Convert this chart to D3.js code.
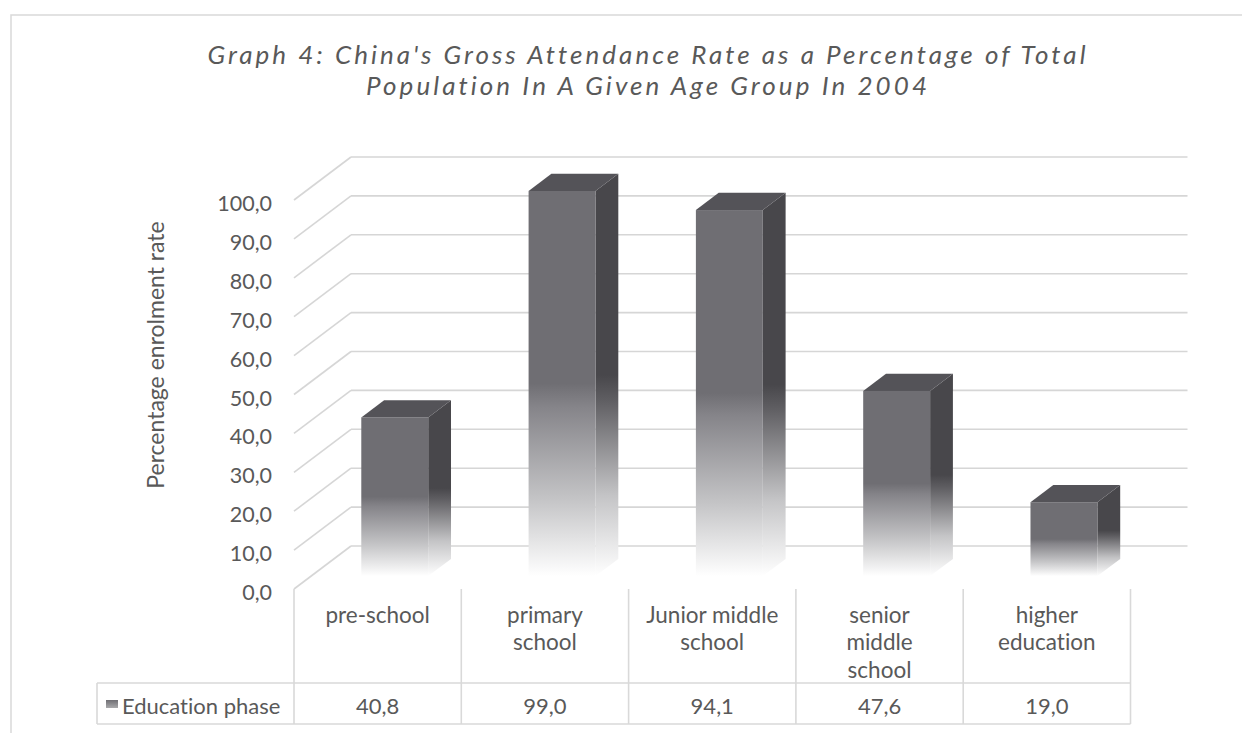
<!DOCTYPE html>
<html>
<head>
<meta charset="utf-8">
<script src="https://cdn.jsdelivr.net/npm/d3@7"></script>
<style>
  html, body { margin: 0; padding: 0; background: #ffffff; }
  svg { display: block; }
  text { font-family: Lato, "Open Sans", sans-serif; fill: #595959; font-variant-ligatures: none; font-feature-settings: "liga" 0, "dlig" 0; }
</style>
</head>
<body>
<svg id="chart" width="1242" height="733"></svg>
<script>
// Gross attendance rate by education phase, China 2004
const categories = ["pre-school", "primary school", "Junior middle school", "senior middle school", "higher education"];
const categoryLines = [["pre-school"], ["primary", "school"], ["Junior middle", "school"], ["senior", "middle", "school"], ["higher", "education"]];
const values = [40.8, 99.0, 94.1, 47.6, 19.0];
const yTicks = [0, 10, 20, 30, 40, 50, 60, 70, 80, 90, 100];
const seriesName = "Education phase";
const titleLines = ["Graph 4: China's Gross Attendance Rate as a Percentage of Total",
                    "Population In A Given Age Group In 2004"];
const yAxisTitle = "Percentage enrolment rate";

const svg = d3.select("#chart");
const comma = d3.formatLocale({ decimal: ",", thousands: ".", grouping: [3], currency: ["", ""] }).format(".1f");

// plot geometry (front plane of the floor, plus an oblique depth offset)
const left = 294, right = 1130.5, floorFront = 589, topFront = 200;
const depthX = 57, depthY = -43;
const barFront = 0.3, barBack = 0.7;   // bar position within the depth

const x = d3.scaleBand().domain(categories).range([left, right]).paddingInner(0).paddingOuter(0);
const y = d3.scaleLinear().domain([0, 100]).range([floorFront, topFront]);

// chart frame
svg.append("rect").attr("x", 11).attr("y", 15).attr("width", 1300).attr("height", 800)
  .attr("fill", "#ffffff").attr("stroke", "#d9d9d9").attr("stroke-width", 1.5);

// title
const title = svg.append("g");
title.append("text").attr("x", 646.5).attr("y", 64).attr("text-anchor", "middle")
  .attr("font-size", 26).attr("font-style", "italic")
  .attr("textLength", 878).attr("lengthAdjust", "spacing").text(titleLines[0]);
title.append("text").attr("x", 646.5).attr("y", 95).attr("text-anchor", "middle")
  .attr("font-size", 26).attr("font-style", "italic")
  .attr("textLength", 561).attr("lengthAdjust", "spacing").text(titleLines[1]);

// gradients for bar faces
const defs = svg.append("defs");
function fade(id, base, mid) {
  const g = defs.append("linearGradient").attr("id", id)
    .attr("x1", 0).attr("y1", 0).attr("x2", 0).attr("y2", 1);
  g.append("stop").attr("offset", 0).attr("stop-color", base);
  g.append("stop").attr("offset", 0.5).attr("stop-color", base);
  g.append("stop").attr("offset", 0.56).attr("stop-color", mid);
  g.append("stop").attr("offset", 0.8).attr("stop-color", "#c4c4c6");
  g.append("stop").attr("offset", 1).attr("stop-color", "#ffffff");
}
fade("frontFade", "#6f6e73", "#858489");
fade("sideFade", "#48474b", "#5e5d61");
const lg = defs.append("linearGradient").attr("id", "legendFade")
  .attr("x1", 0).attr("y1", 0).attr("x2", 0).attr("y2", 1);
lg.append("stop").attr("offset", 0).attr("stop-color", "#6f6e73");
lg.append("stop").attr("offset", 1).attr("stop-color", "#a9a9ab");

// gridlines: back wall and left side wall
const grid = svg.append("g").attr("stroke", "#d6d6d6").attr("stroke-width", 1.6).attr("fill", "none");
yTicks.forEach(t => {
  grid.append("line")
    .attr("x1", left + depthX).attr("x2", right + depthX)
    .attr("y1", y(t) + depthY).attr("y2", y(t) + depthY);
  grid.append("line")
    .attr("x1", left).attr("x2", left + depthX)
    .attr("y1", y(t)).attr("y2", y(t) + depthY);
});

// y tick labels
svg.append("g").selectAll("text").data(yTicks).join("text")
  .attr("x", 272).attr("y", d => y(d) + 3)
  .attr("text-anchor", "end").attr("dominant-baseline", "central")
  .attr("font-size", 21.5).text(d => comma(d));

// y axis title
svg.append("text").attr("transform", "translate(155,355) rotate(-90)")
  .attr("text-anchor", "middle").attr("dominant-baseline", "central")
  .attr("font-size", 23).text(yAxisTitle);

// 3D columns
const bw = x.bandwidth() * 0.4;
const bdx = depthX * (barBack - barFront), bdy = depthY * (barBack - barFront);
const bars = svg.append("g").selectAll("g").data(values).join("g")
  .attr("transform", (d, i) => {
    const fx = x(categories[i]) + (x.bandwidth() - bw) / 2 + depthX * barFront;
    const fy = depthY * barFront;
    return `translate(${fx},${fy})`;
  });
bars.append("path").attr("fill", "url(#sideFade)")
  .attr("d", d => `M${bw},${y(d)} L${bw + bdx},${y(d) + bdy} L${bw + bdx},${y(0) + bdy} L${bw},${y(0)} Z`);
bars.append("path").attr("fill", "#545358")
  .attr("d", d => `M0,${y(d)} L${bdx},${y(d) + bdy} L${bw + bdx},${y(d) + bdy} L${bw},${y(d)} Z`);
bars.append("rect").attr("fill", "url(#frontFade)")
  .attr("x", 0).attr("width", bw)
  .attr("y", d => y(d)).attr("height", d => y(0) - y(d));

// data table
const table = svg.append("g").attr("stroke", "#d9d9d9").attr("stroke-width", 1.6).attr("fill", "none");
const rowTop = 683, rowBottom = 724, tableLeft = 97;
categories.concat([null]).forEach((c, i) => {
  const xx = i < categories.length ? x(c) : right;
  table.append("line").attr("x1", xx).attr("x2", xx).attr("y1", floorFront).attr("y2", rowBottom);
});
table.append("line").attr("x1", tableLeft).attr("x2", right).attr("y1", rowTop).attr("y2", rowTop);
table.append("line").attr("x1", tableLeft).attr("x2", right).attr("y1", rowBottom).attr("y2", rowBottom);
table.append("line").attr("x1", tableLeft).attr("x2", tableLeft).attr("y1", rowTop).attr("y2", rowBottom);

// category labels
const catG = svg.append("g").selectAll("text").data(categoryLines).join("text")
  .attr("text-anchor", "middle").attr("font-size", 22.5);
catG.selectAll("tspan").data((d, i) => d.map(s => ({ s, i }))).join("tspan")
  .attr("x", d => x(categories[d.i]) + x.bandwidth() / 2)
  .attr("y", (d, j) => 614 + j * 27.5)
  .attr("dominant-baseline", "central")
  .text(d => d.s);

// value row
svg.append("g").selectAll("text").data(values).join("text")
  .attr("x", (d, i) => x(categories[i]) + x.bandwidth() / 2)
  .attr("y", 705).attr("text-anchor", "middle").attr("dominant-baseline", "central")
  .attr("font-size", 22).text(d => comma(d));

svg.append("rect").attr("x", 106).attr("y", 700).attr("width", 12).attr("height", 8)
  .attr("fill", "url(#legendFade)");
svg.append("text").attr("x", 122).attr("y", 705).attr("dominant-baseline", "central")
  .attr("font-size", 22).text(seriesName);
</script>
</body>
</html>
